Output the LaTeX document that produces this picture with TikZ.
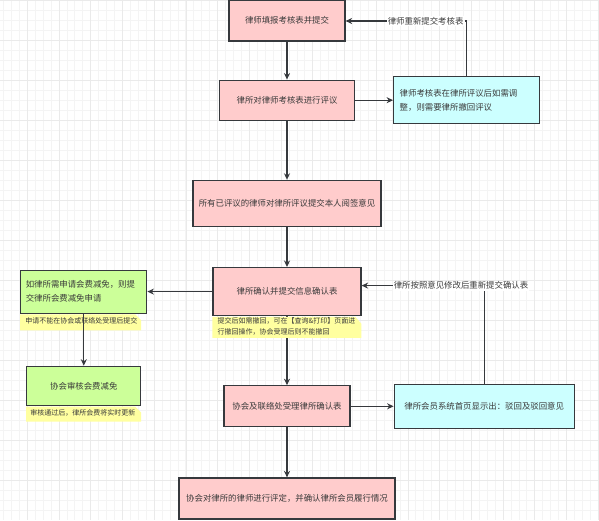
\documentclass[tikz,border=0pt]{standalone}
\usepackage{fontspec}
\setmainfont{Noto Sans CJK SC}
\usetikzlibrary{positioning, arrows.meta}
\definecolor{pinkfill}{HTML}{FFCCCC}
\definecolor{cyanfill}{HTML}{CCFFFF}
\definecolor{greenfill}{HTML}{CCFF99}
\definecolor{notefill}{HTML}{FFFFA0}
\definecolor{edge}{HTML}{36393D}
\definecolor{txt}{HTML}{3A3A3A}
\definecolor{gridminor}{HTML}{F4F4F4}
\definecolor{gridmajor}{HTML}{EAEAEA}
\tikzset{
  stepbox/.style  = {rectangle, draw=edge, line width=1.2pt, fill=pinkfill,
                     align=center, text=txt, inner sep=2pt,
                     font=\fontsize{8.4}{14}\selectfont},
  infobox/.style  = {stepbox, fill=cyanfill},
  feebox/.style   = {stepbox, fill=greenfill},
  notetext/.style = {text=txt, align=left, inner xsep=5pt, inner ysep=3pt,
                     font=\fontsize{7}{11}\selectfont},
  lbl/.style      = {fill=white, text=txt, inner sep=1pt,
                     font=\fontsize{8.4}{10}\selectfont},
  arr/.style      = {-{Stealth[length=6.5pt,width=6pt]}, line width=1.2pt, draw=edge},
  plain/.style    = {line width=1.2pt, draw=edge},
}

\begin{document}
\begin{tikzpicture}[x=1pt, y=-1pt]

  % ----- background grid -----
  \useasboundingbox (0,0) rectangle (599,520);
  \foreach \i in {0,...,75} \draw[gridminor, line width=0.8pt] ({3.5+7.93*\i},0) -- ++(0,520);
  \foreach \j in {0,...,51} \draw[gridminor, line width=0.8pt] (0,{0.7+10*\j}) -- ++(599,0);
  \foreach \i in {0,...,18} \draw[gridmajor, line width=0.8pt] ({27.3+31.72*\i},0) -- ++(0,520);
  \foreach \j in {0,...,12} \draw[gridmajor, line width=0.8pt] (0,{0.7+40*\j}) -- ++(599,0);

  % ----- main column -----
  \node[stepbox, minimum width=116pt, minimum height=41pt] (fill) at (287,20.5)
       {律师填报考核表并提交};
  \node[stepbox, below=38pt of fill, minimum width=135pt, minimum height=40pt] (review)
       {律所对律师考核表进行评议};
  \node[stepbox, below=59pt of review, minimum width=188pt, minimum height=46pt] (opinion)
       {所有已评议的律师对律所评议提交本人阅签意见};
  \node[stepbox, below=40pt of opinion, minimum width=148pt, minimum height=48pt] (confirm)
       {律所确认并提交信息确认表};
  \node[stepbox, below=69pt of confirm, minimum width=126pt, minimum height=41pt] (accept)
       {协会及联络处受理律所确认表};
  \node[stepbox, below=50pt of accept, minimum width=216pt, minimum height=41pt] (rate)
       {协会对律所的律师进行评定，并确认律所会员履行情况};

  % ----- right side -----
  \node[infobox, right=38pt of review, minimum width=146pt, minimum height=47pt,
        text width=134pt, inner xsep=6pt, align=left] (withdraw)
       {律师考核表在律所评议后如需调\\整，则需要律所撤回评议};
  \node[infobox, right=43pt of accept, minimum width=180pt, minimum height=44pt] (reject)
       {律所会员系统首页显示出：驳回及驳回意见};
  \node[lbl, right=41pt of fill, yshift=-0.5pt] (resubmit)
       {律师重新提交考核表};
  \node[lbl, right=31pt of confirm, yshift=6pt] (resend)
       {律所按照意见修改后重新提交确认表};

  % ----- left side: fee reduction -----
  \node[feebox, left=65pt of confirm, minimum width=126pt, minimum height=43pt,
        text width=116pt, inner xsep=5pt, align=left] (apply)
       {如律所需申请会费减免，则提\\交律所会费减免申请};
  \node[feebox, below=52pt of apply, minimum width=114pt, minimum height=39pt] (audit)
       {协会审核会费减免};

  % ----- connectors -----
  \draw[arr] (fill.south) -- (review.north);
  \draw[arr] (review.south) -- (opinion.north);
  \draw[arr] (opinion.south) -- (confirm.north);
  \draw[arr] (confirm.south) -- (accept.north);
  \draw[arr] (accept.south) -- (rate.north);
  \draw[arr] (review.east) -- (withdraw.west);
  \draw[arr] (accept.east) -- (reject.west);
  \draw[arr] (confirm.west) -- (apply.east);
  \draw[arr] (resubmit.west) -- (fill.east |- resubmit.west);
  \draw[plain] (withdraw.north) |- (resubmit.east);
  \draw[arr] (resend.west) -- (confirm.east |- resend.west);
  \draw[plain] (reject.north) -- (reject.north |- resend.south);

  % ----- notes -----
  \fill[notefill] ([yshift=-0.6pt]apply.south west) -- ++(115,0) -- ++(6,6) -- ++(0,10) -- ++(-121,0) -- cycle;
  \node[notetext, anchor=north west, text width=115pt] (applynote)
       at ([yshift=-0.6pt]apply.south west) {申请不能在协会或联络处受理后提交};
  \fill[notefill] ([yshift=-0.6pt]audit.south west) -- ++(109,0) -- ++(6,6) -- ++(0,9) -- ++(-115,0) -- cycle;
  \node[notetext, anchor=north west, text width=108pt, inner xsep=4pt, inner ysep=2.5pt] (auditnote)
       at ([yshift=-0.6pt]audit.south west) {审核通过后，律所会费将实时更新};
  \fill[notefill] ([yshift=-0.6pt]confirm.south west) -- ++(143,0) -- ++(6,7) -- ++(0,14) -- ++(-149,0) -- cycle;
  \node[notetext, anchor=north west, text width=141pt, inner ysep=1pt] (confirmnote)
       at ([yshift=-0.6pt]confirm.south west)
       {提交后如需撤回，可在【查询\&打印】页面进\\行撤回操作，协会受理后则不能撤回};

  \draw[arr] (apply.south) -- (audit.north);

\end{tikzpicture}
\end{document}
